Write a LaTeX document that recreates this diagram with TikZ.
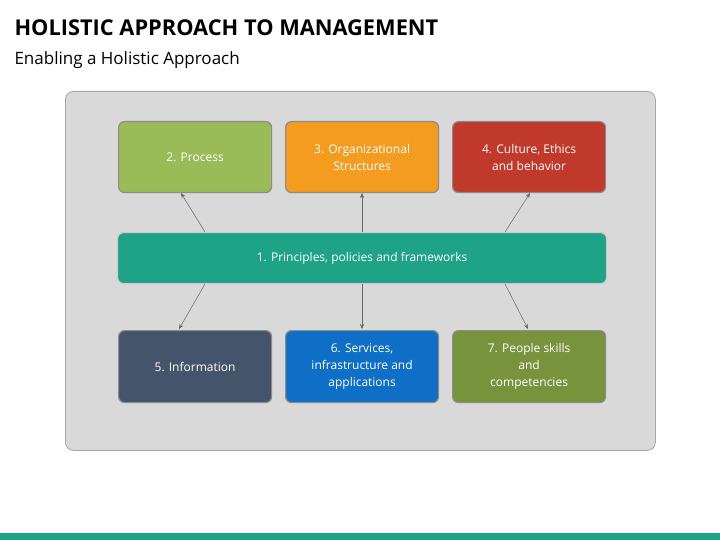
\documentclass[tikz,border=0pt]{standalone}
\usepackage{fontspec}
\setmainfont{Open Sans}
\usetikzlibrary{arrows.meta}
\definecolor{cgreen}{HTML}{9BBB59}
\definecolor{corange}{HTML}{F39C1F}
\definecolor{cred}{HTML}{C0392B}
\definecolor{cteal}{HTML}{1FA386}
\definecolor{cslate}{HTML}{44546A}
\definecolor{cblue}{HTML}{0F6FC6}
\definecolor{colive}{HTML}{77933C}
\definecolor{panel}{HTML}{D9D9D9}
\tikzset{
 boxs/.style={rounded corners=6pt, draw=black!45, line width=1.2pt, text=white, align=center, font=\fontsize{12}{17}\selectfont, minimum width=153pt, minimum height=71pt, inner sep=2pt, anchor=north west},
 conn/.style={-{Stealth[length=5pt,width=4pt]}, draw=black!60, line width=0.5pt}
}
\begin{document}
\begin{tikzpicture}[x=1pt,y=-1pt]
\useasboundingbox (0,0) rectangle (720,540);
\fill[cteal] (0,533) rectangle (720,540);
\node[anchor=west, font=\bfseries\fontsize{21.8}{24}\selectfont] (title) at (11,28) {HOLISTIC APPROACH TO MANAGEMENT};
\node[anchor=west, font=\fontsize{17}{20}\selectfont] (sub) at (11,60) {Enabling a Holistic Approach};
\node[draw=black!35, fill=panel, rounded corners=8pt, minimum width=590pt, minimum height=359pt, anchor=north west, line width=0.8pt] (panel) at (65,91) {};
\node[boxs, fill=cgreen] (p2) at (118,121) {2. Process};
\node[boxs, fill=corange] (p3) at (285,121) {3. Organizational\\Structures};
\node[boxs, fill=cred] (p4) at (452,121) {4. Culture, Ethics\\and behavior};
\node[boxs, fill=cteal, minimum width=489pt, minimum height=51pt, draw=black!20] (p1) at (117,232) {1. Principles, policies and frameworks};
\node[boxs, fill=cslate, minimum height=72pt] (p5) at (118,330) {5. Information};
\node[boxs, fill=cblue, minimum height=72pt] (p6) at (285,330) {6. Services,\\infrastructure and\\applications};
\node[boxs, fill=colive, minimum height=72pt] (p7) at (452,330) {7. People skills\\and\\competencies};
\coordinate (a1) at (205,232); \coordinate (b1) at (181,193);
\coordinate (a2) at (362,232); \coordinate (b2) at (362,193);
\coordinate (a3) at (505,232); \coordinate (b3) at (530,193);
\coordinate (c1) at (205,284); \coordinate (d1) at (179,329);
\coordinate (c2) at (362,284); \coordinate (d2) at (362,329);
\coordinate (c3) at (505,284); \coordinate (d3) at (528,329);
\draw[conn] (a1) -- (b1); \draw[conn] (a2) -- (b2); \draw[conn] (a3) -- (b3);
\draw[conn] (c1) -- (d1); \draw[conn] (c2) -- (d2); \draw[conn] (c3) -- (d3);
\end{tikzpicture}
\end{document}
